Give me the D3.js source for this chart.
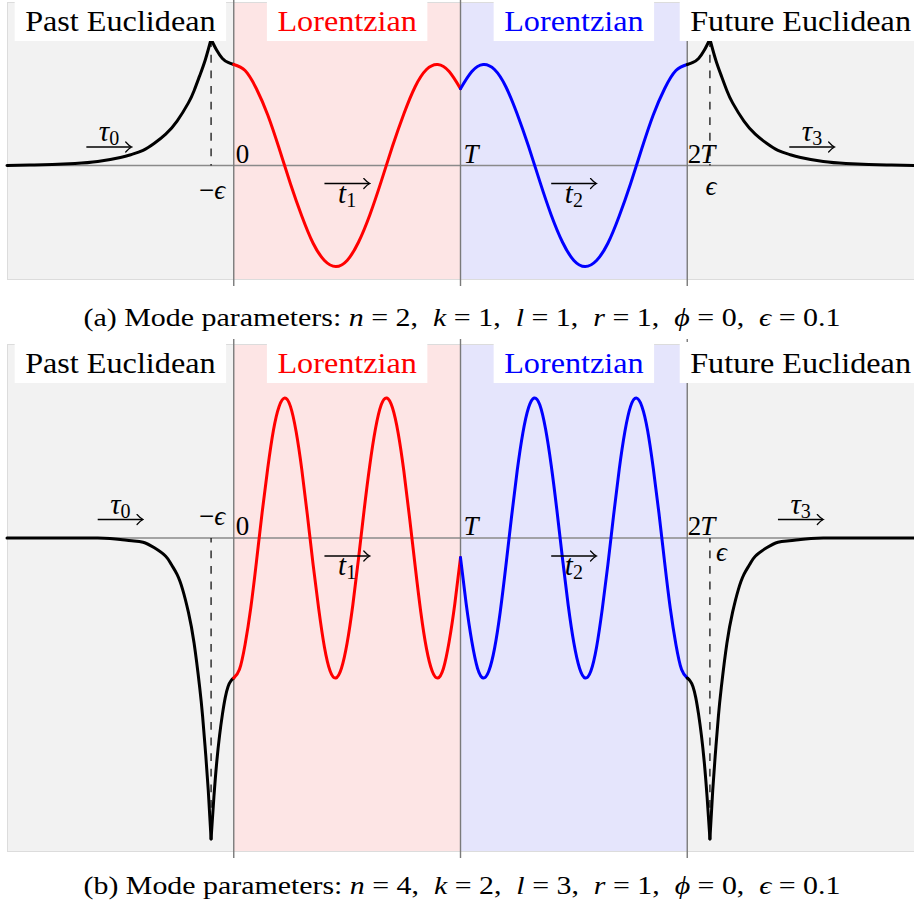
<!DOCTYPE html>
<html>
<head>
<meta charset="utf-8">
<script src="https://cdn.jsdelivr.net/npm/d3@7"></script>
<style>
  body { margin: 0; background: #fff; }
  svg { display: block; font-family: "Liberation Serif", "DejaVu Serif", serif; }
  text { white-space: pre; }
</style>
</head>
<body>
<div id="viz"></div>
<script>
// ---- data (t in units of T, value = mode amplitude) ----
var regionNames = ['Past Euclidean', 'Lorentzian', 'Lorentzian', 'Future Euclidean'];
var regionCenters = [-0.5, 0.5, 1.5, 2.5];
var regionColors = ['#000', '#ff0000', '#0000ff', '#000'];

var paramNames = ['n', 'k', 'l', 'r', 'ϕ', 'ϵ'];
var paramsA = ['2', '1', '1', '1', '0', '0.1'];
var paramsB = ['4', '2', '3', '1', '0', '0.1'];

var eps = 0.1;

// panel (a)
var pastOuterA = [[-1, 0], [-0.9, 0.005], [-0.8, 0.01], [-0.7, 0.02], [-0.6, 0.04], [-0.5, 0.08], [-0.45, 0.11],
  [-0.4, 0.15], [-0.35, 0.22], [-0.3, 0.31], [-0.25, 0.44], [-0.2, 0.62], [-0.175, 0.74], [-0.15, 0.89],
  [-0.125, 1.05], [-0.1, 1.25]];
var pastInnerA = [[-0.1, 1.25], [-0.075, 1.14], [-0.05, 1.06], [-0.025, 1.02], [0, 1]];
var redA = [[0, 1], [0.05, 0.94], [0.1, 0.76], [0.15, 0.5], [0.2, 0.17], [0.25, -0.18], [0.3, -0.5], [0.35, -0.77],
  [0.4, -0.94], [0.45, -1], [0.5, -0.94], [0.55, -0.76], [0.6, -0.49], [0.65, -0.16], [0.7, 0.19], [0.75, 0.51],
  [0.8, 0.78], [0.85, 0.95], [0.9, 1], [0.95, 0.93], [1, 0.76]];
var blueA = [[1, 0.76], [1.05, 0.93], [1.1, 1], [1.15, 0.95], [1.2, 0.78], [1.25, 0.51], [1.3, 0.19], [1.35, -0.16],
  [1.4, -0.49], [1.45, -0.76], [1.5, -0.94], [1.55, -1], [1.6, -0.94], [1.65, -0.77], [1.7, -0.5], [1.75, -0.18],
  [1.8, 0.17], [1.85, 0.5], [1.9, 0.76], [1.95, 0.94], [2, 1]];
var futureInnerA = [[2, 1], [2.025, 1.02], [2.05, 1.06], [2.075, 1.14], [2.1, 1.25]];
var futureOuterA = [[2.1, 1.25], [2.125, 1.05], [2.15, 0.89], [2.175, 0.74], [2.2, 0.62], [2.25, 0.44], [2.3, 0.31],
  [2.35, 0.22], [2.4, 0.15], [2.45, 0.11], [2.5, 0.08], [2.6, 0.04], [2.7, 0.02], [2.8, 0.01], [2.9, 0.005], [3, 0]];

// panel (b)
var pastOuterB = [[-1, 0], [-0.8, 0], [-0.6, 0], [-0.5, -0.01], [-0.45, -0.02], [-0.4, -0.03], [-0.35, -0.07],
  [-0.3, -0.13], [-0.275, -0.19], [-0.25, -0.26], [-0.225, -0.37], [-0.2, -0.53], [-0.175, -0.75], [-0.15, -1.07],
  [-0.1375, -1.27], [-0.125, -1.52], [-0.1125, -1.8], [-0.1, -2.15]];
var pastInnerB = [[-0.1, -2.15], [-0.0875, -1.85], [-0.075, -1.6], [-0.0625, -1.41], [-0.05, -1.26], [-0.0375, -1.14],
  [-0.025, -1.06], [-0.0125, -1.02], [0, -1]];
var redB = [[0, -1], [0.025, -0.94], [0.05, -0.76], [0.075, -0.5], [0.1, -0.17], [0.125, 0.18], [0.15, 0.5],
  [0.175, 0.77], [0.2, 0.94], [0.225, 1], [0.25, 0.94], [0.275, 0.76], [0.3, 0.49], [0.325, 0.16], [0.35, -0.19],
  [0.375, -0.51], [0.4, -0.78], [0.425, -0.95], [0.45, -1], [0.475, -0.93], [0.5, -0.75], [0.525, -0.48],
  [0.55, -0.15], [0.575, 0.2], [0.6, 0.52], [0.625, 0.78], [0.65, 0.95], [0.675, 1], [0.7, 0.93], [0.725, 0.75],
  [0.75, 0.48], [0.775, 0.15], [0.8, -0.2], [0.825, -0.53], [0.85, -0.79], [0.875, -0.95], [0.9, -1],
  [0.925, -0.93], [0.95, -0.74], [0.975, -0.47], [1, -0.14]];
var blueB = [[1, -0.14], [1.025, -0.47], [1.05, -0.74], [1.075, -0.93], [1.1, -1], [1.125, -0.95], [1.15, -0.79],
  [1.175, -0.53], [1.2, -0.2], [1.225, 0.15], [1.25, 0.48], [1.275, 0.75], [1.3, 0.93], [1.325, 1], [1.35, 0.95],
  [1.375, 0.78], [1.4, 0.52], [1.425, 0.2], [1.45, -0.15], [1.475, -0.48], [1.5, -0.75], [1.525, -0.93],
  [1.55, -1], [1.575, -0.95], [1.6, -0.78], [1.625, -0.51], [1.65, -0.19], [1.675, 0.16], [1.7, 0.49],
  [1.725, 0.76], [1.75, 0.94], [1.775, 1], [1.8, 0.94], [1.825, 0.77], [1.85, 0.5], [1.875, 0.18], [1.9, -0.17],
  [1.925, -0.5], [1.95, -0.76], [1.975, -0.94], [2, -1]];
var futureInnerB = [[2, -1], [2.0125, -1.02], [2.025, -1.06], [2.0375, -1.14], [2.05, -1.26], [2.0625, -1.41],
  [2.075, -1.6], [2.0875, -1.85], [2.1, -2.15]];
var futureOuterB = [[2.1, -2.15], [2.1125, -1.8], [2.125, -1.52], [2.1375, -1.27], [2.15, -1.07], [2.175, -0.75],
  [2.2, -0.53], [2.225, -0.37], [2.25, -0.26], [2.275, -0.19], [2.3, -0.13], [2.35, -0.07], [2.4, -0.03],
  [2.45, -0.02], [2.5, -0.01], [2.6, 0], [2.8, 0], [3, 0]];

// little direction arrows (start, end in t units)
var arrowNames = ['τ', 't', 't', 'τ'];
var arrowSubs = ['0', '1', '2', '3'];
var arrowsA = [[-0.65, -0.45], [0.4, 0.6], [1.4, 1.6], [2.45, 2.65]];
var arrowsB = [[-0.6, -0.4], [0.4, 0.6], [1.4, 1.6], [2.4, 2.6]];

var w = 914, h = 911;

var svg = d3.select('#viz')
            .append('svg')
            .attr('width', w)
            .attr('height', h);

svg.append('defs')
   .append('marker')
     .attr('id', 'tip')
     .attr('viewBox', '-7 -6 9 12')
     .attr('refX', 0)
     .attr('refY', 0)
     .attr('markerWidth', 9)
     .attr('markerHeight', 12)
     .attr('markerUnits', 'userSpaceOnUse')
     .attr('orient', 'auto')
   .append('path')
     .attr('d', 'M-5.4,-5 Q-1.9,-1 0.6,0 Q-1.9,1 -5.4,5')
     .attr('fill', 'none')
     .attr('stroke', '#000')
     .attr('stroke-width', 1.2)
     .attr('stroke-linecap', 'round');

var x = d3.scaleLinear().domain([-1, 3]).range([7, 914]);

var panels = [
  { tag: 'a', top: 2, bottom: 280, yRange: [266.5, 64.5], params: paramsA, arrows: arrowsA,
    segs: [[pastOuterA, '#000'], [pastInnerA, '#000'], [redA, '#ff0000'], [blueA, '#0000ff'],
           [futureInnerA, '#000'], [futureOuterA, '#000']],
    epsVal: 1.25, epsAbove: false, capY: 326 },
  { tag: 'b', top: 344, bottom: 852, yRange: [678, 398], params: paramsB, arrows: arrowsB,
    segs: [[pastOuterB, '#000'], [pastInnerB, '#000'], [redB, '#ff0000'], [blueB, '#0000ff'],
           [futureInnerB, '#000'], [futureOuterB, '#000']],
    epsVal: -2.15, epsAbove: true, capY: 894 }
];

panels.forEach(function(p) {
  var y = d3.scaleLinear().domain([-1, 1]).range(p.yRange);
  var g = svg.append('g');
  var y0 = y(0);

  // backgrounds
  g.append('rect')
   .attr('x', x(-1)).attr('y', p.top)
   .attr('width', x(3) - x(-1)).attr('height', p.bottom - p.top)
   .attr('fill', '#f2f2f2');
  g.append('rect')
   .attr('x', x(0)).attr('y', p.top)
   .attr('width', x(1) - x(0)).attr('height', p.bottom - p.top)
   .attr('fill', '#fde5e5');
  g.append('rect')
   .attr('x', x(1)).attr('y', p.top)
   .attr('width', x(2) - x(1)).attr('height', p.bottom - p.top)
   .attr('fill', '#e5e5fc');
  g.append('rect')
   .attr('x', x(-1) + 0.5).attr('y', p.top + 0.5)
   .attr('width', x(3) - x(-1)).attr('height', p.bottom - p.top - 1)
   .attr('fill', 'none')
   .attr('stroke', '#dcdcdc')
   .attr('stroke-width', 1);

  // axis + region boundaries
  g.append('line')
   .attr('x1', x(-1)).attr('x2', x(3))
   .attr('y1', y0).attr('y2', y0)
   .attr('stroke', '#8a8a8a')
   .attr('stroke-width', 1.3);
  g.selectAll('.vl')
   .data([0, 1, 2])
   .enter()
   .append('line')
     .attr('x1', d => x(d)).attr('x2', d => x(d))
     .attr('y1', p.top - 5).attr('y2', p.bottom + 6)
     .attr('stroke', '#7a7a7a')
     .attr('stroke-width', 1.4);

  // dashed markers at -eps and 2T+eps
  g.selectAll('.dash')
   .data([-eps, 2 + eps])
   .enter()
   .append('line')
     .attr('x1', d => x(d)).attr('x2', d => x(d))
     .attr('y1', y(p.epsVal)).attr('y2', y0)
     .attr('stroke', '#000')
     .attr('stroke-width', 1.2)
     .attr('stroke-dasharray', '7.8,7.8');

  // mode function
  var line = d3.line()
               .x(d => x(d[0]))
               .y(d => y(d[1]))
               .curve(d3.curveNatural);
  g.selectAll('.seg')
   .data(p.segs)
   .enter()
   .append('path')
     .attr('d', d => line(d[0]))
     .attr('fill', 'none')
     .attr('stroke', d => d[1])
     .attr('stroke-width', 3)
     .attr('stroke-linejoin', 'round')
     .attr('stroke-linecap', 'round');

  // region labels in white boxes
  regionNames.forEach(function(name, i) {
    var t = g.append('text')
             .attr('x', x(regionCenters[i]))
             .attr('y', p.top + 29)
             .attr('text-anchor', 'middle')
             .attr('fill', regionColors[i])
             .style('font-size', '29px')
             .text(name);
    var tw = t.node().getComputedTextLength() * 1.11;
    t.attr('textLength', tw).attr('lengthAdjust', 'spacingAndGlyphs');
    g.insert('rect', function() { return t.node(); })
     .attr('x', x(regionCenters[i]) - tw / 2 - 10.5)
     .attr('y', p.top - 2)
     .attr('width', tw + 21)
     .attr('height', 41)
     .attr('fill', '#fff');
  });

  // tick labels
  var tl = g.append('g').style('font-size', '27px');
  tl.append('text').attr('x', x(0) + 2).attr('y', y0 - 3).text('0');
  tl.append('text').attr('x', x(1) + 3).attr('y', y0 - 3).style('font-style', 'italic').text('T');
  var t2 = tl.append('text').attr('x', x(2) + 0.5).attr('y', y0 - 3);
  t2.append('tspan').text('2');
  t2.append('tspan').style('font-style', 'italic').attr('dx', -1).text('T');

  var me = tl.append('text')
             .attr('x', x(-eps) + 1)
             .attr('y', p.epsAbove ? y0 - 13 : y0 + 33)
             .attr('text-anchor', 'middle');
  me.append('tspan').text('−');
  me.append('tspan').style('font-style', 'italic').text('ϵ');
  tl.append('text')
    .attr('x', p.epsAbove ? x(2 + eps) + 6 : x(2 + eps) + 1)
    .attr('y', p.epsAbove ? y0 + 23 : y0 + 29)
    .attr('text-anchor', p.epsAbove ? 'start' : 'middle')
    .style('font-style', 'italic')
    .text('ϵ');

  // time direction arrows
  p.arrows.forEach(function(a, i) {
    var above = (i === 0 || i === 3);
    var ay = above ? y0 - 18.5 : y0 + 18;
    g.append('line')
     .attr('x1', x(a[0])).attr('x2', x(a[1]) - 0.6)
     .attr('y1', ay).attr('y2', ay)
     .attr('stroke', '#000')
     .attr('stroke-width', 1.3)
     .attr('marker-end', 'url(#tip)');
    var lab = g.append('text')
               .attr('x', (x(a[0]) + x(a[1])) / 2)
               .attr('y', above ? ay - 6 : ay + 19)
               .attr('text-anchor', 'middle')
               .style('font-size', '29px');
    lab.append('tspan').style('font-style', 'italic').text(arrowNames[i]);
    lab.append('tspan').attr('dy', 4).style('font-size', '20px').text(arrowSubs[i]);
  });

  // caption
  var cap = svg.append('text')
               .attr('x', 462)
               .attr('y', p.capY)
               .attr('text-anchor', 'middle')
               .style('font-size', '26px');
  cap.append('tspan').text('(' + p.tag + ') Mode parameters: ');
  paramNames.forEach(function(nm, i) {
    cap.append('tspan').style('font-style', 'italic').text(nm);
    cap.append('tspan').text(' = ' + p.params[i] + (i < paramNames.length - 1 ? ',  ' : ''));
  });
  cap.attr('textLength', 757).attr('lengthAdjust', 'spacingAndGlyphs');
});
</script>
</body>
</html>
